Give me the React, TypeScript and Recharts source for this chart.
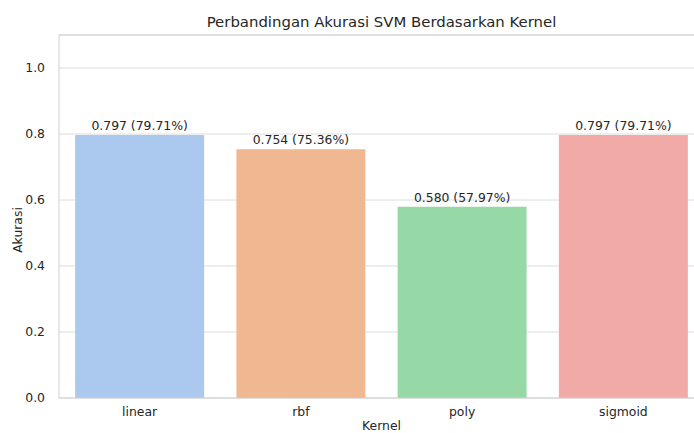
import { BarChart, Bar, XAxis, YAxis, CartesianGrid, Cell, LabelList, ReferenceLine } from 'recharts'

const kernels = ['linear', 'rbf', 'poly', 'sigmoid']
const accuracy = [0.7971, 0.7536, 0.5797, 0.7971]
const barColors = ['#abc9ee', '#f0b891', '#97d9a6', '#f2aaa7']
const yTicks = [0, 0.2, 0.4, 0.6, 0.8, 1.0]

const data = kernels.map((k, i) => ({ kernel: k, acc: accuracy[i] }))

const FONT = 'DejaVu Sans, sans-serif'
const TEXT = '#262626'
const FS = 12.4

const fmt = (v: number) => `${v.toFixed(3)} (${(v * 100).toFixed(2)}%)`

const BarLabel = (props: any) => {
  const { x, y, width, value } = props
  return (
    <text x={Number(x) + Number(width) / 2} y={Number(y) - 5} textAnchor="middle" fill={TEXT} fontSize={FS} fontFamily={FONT}>
      {fmt(Number(value))}
    </text>
  )
}

export default function App() {
  return (
    <div style={{ position: 'absolute', left: 0, top: 0, width: 694, height: 433, overflow: 'hidden', background: '#fff', fontFamily: FONT }}>
      <div style={{ position: 'absolute', left: 59, width: 645, top: 15, lineHeight: 1, textAlign: 'center', fontSize: 14.9, color: TEXT }}>
        Perbandingan Akurasi SVM Berdasarkan Kernel
      </div>
      <div style={{ position: 'absolute', left: 18, top: 230, lineHeight: 1, transform: 'translate(-50%, -50%) rotate(-90deg)', fontSize: FS, color: TEXT }}>
        Akurasi
      </div>
      <div style={{ position: 'absolute', left: 59, width: 645, top: 420, lineHeight: 1, textAlign: 'center', fontSize: FS, color: TEXT }}>
        Kernel
      </div>
      <BarChart width={720} height={433} data={data} margin={{ top: 35, right: 16, bottom: 0, left: 0 }} barCategoryGap="10%">
        <CartesianGrid vertical={false} stroke="#dcdcdc" strokeWidth={1} />
        <XAxis
          dataKey="kernel"
          height={35}
          tickLine={false}
          axisLine={{ stroke: '#d0d0d0' }}
          tick={{ fill: TEXT, fontSize: FS, fontFamily: FONT }}
          tickMargin={3}
        />
        <YAxis
          width={59}
          domain={[0, 1.1]}
          ticks={yTicks}
          tickFormatter={(v: number) => v.toFixed(1)}
          tickLine={false}
          axisLine={{ stroke: '#d0d0d0' }}
          tick={{ fill: TEXT, fontSize: FS, fontFamily: FONT }}
          tickMargin={8}
        />
        <ReferenceLine y={1.1} stroke="#d0d0d0" />
        <Bar dataKey="acc" isAnimationActive={false}>
          {data.map((_, i) => (
            <Cell key={i} fill={barColors[i]} />
          ))}
          <LabelList dataKey="acc" content={BarLabel} />
        </Bar>
      </BarChart>
    </div>
  )
}
